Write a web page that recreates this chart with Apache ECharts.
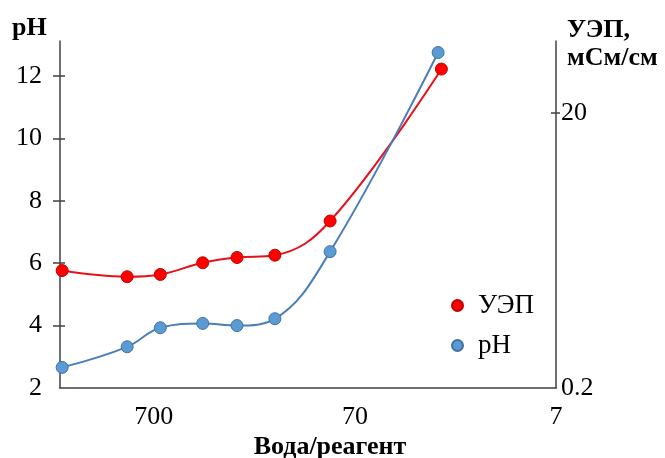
<!DOCTYPE html>
<html>
<head>
<meta charset="utf-8">
<script src="https://cdn.jsdelivr.net/npm/echarts@6/dist/echarts.min.js"></script>
<style>
  html, body { margin: 0; padding: 0; background: #fff; }
  #chart { width: 665px; height: 458px; }
</style>
</head>
<body>
<div id="chart"></div>
<script>
// water/reagent ratio for each sample
var ratioPH = [2000, 950, 650, 400, 270, 175, 93, 27];
var ratioUEP = [2000, 950, 650, 400, 270, 175, 93, 26];
// measured values
var phValues = [2.66, 3.32, 3.93, 4.07, 4.0, 4.22, 6.37, 12.75];
var uepValues = [1.43, 1.29, 1.34, 1.63, 1.78, 1.85, 3.28, 41.8];
// tick labels
var ratioTicks = [7, 70, 700];
var phLabels = [2, 4, 6, 8, 10, 12];
var phTicks = [4, 6, 8, 10, 12];
var uepLabels = [0.2, 20];
var uepTicks = [20];

var font = 'Liberation Serif';
var titleFont = 'bold 26px "Liberation Serif"';

function pairs(xs, ys) {
    var out = [];
    for (var i = 0; i < xs.length; i++) {
        out.push([xs[i], ys[i]]);
    }
    return out;
}

var myChart = echarts.init(document.getElementById('chart'));
var axisColor = '#404040';

option = {
    animation: false,
    grid: {
        left: 60,
        right: 109,
        top: 41,
        bottom: 70
    },
    legend: {
        orient: 'vertical',
        left: 446,
        top: 287,
        itemGap: 13,
        itemWidth: 11,
        itemHeight: 11,
        icon: 'circle',
        textStyle: { fontFamily: font, fontSize: 27, lineHeight: 27, color: '#000', padding: [0, 0, 0, 10] },
        data: ['УЭП', 'pH']
    },
    graphic: [
        { type: 'text', x: 12, y: 28, style: { text: 'pH', font: titleFont, fill: '#000', verticalAlign: 'middle' } },
        { type: 'text', x: 567, y: 30, style: { text: 'УЭП,', font: titleFont, fill: '#000', verticalAlign: 'middle' } },
        { type: 'text', x: 567, y: 58, style: { text: 'мСм/см', font: titleFont, fill: '#000', verticalAlign: 'middle' } },
        { type: 'text', x: 330, y: 447, style: { text: 'Вода/реагент', font: titleFont, fill: '#000', align: 'center', verticalAlign: 'middle' } }
    ],
    xAxis: {
        type: 'log',
        logBase: 10,
        inverse: true,
        min: 7,
        max: 2050,
        axisLine: { lineStyle: { color: axisColor, width: 1.5 } },
        axisTick: { show: false },
        splitLine: { show: false },
        axisLabel: {
            customValues: ratioTicks,
            margin: 16,
            fontFamily: font,
            fontSize: 26,
            color: '#000'
        }
    },
    yAxis: [
        {
            type: 'value',
            position: 'left',
            min: 2,
            max: 13.12,
            interval: 2,
            axisLine: { show: true, lineStyle: { color: axisColor, width: 1.5 } },
            axisTick: { show: true, length: 7, customValues: phTicks, lineStyle: { color: axisColor, width: 1.5 } },
            splitLine: { show: false },
            axisLabel: {
                customValues: phLabels,
                margin: 18,
                fontFamily: font,
                fontSize: 26,
                color: '#000'
            }
        },
        {
            type: 'log',
            logBase: 10,
            position: 'right',
            min: 0.2,
            max: 66.9,
            axisLine: { show: true, lineStyle: { color: axisColor, width: 1.5 } },
            axisTick: { show: true, length: 4, customValues: uepTicks, lineStyle: { color: axisColor, width: 1.5 } },
            splitLine: { show: false },
            minorTick: { show: false },
            axisLabel: {
                customValues: uepLabels,
                margin: 5,
                fontFamily: font,
                fontSize: 26,
                color: '#000'
            }
        },
        {
            // inner half of the crossing ticks on the pH axis
            type: 'value',
            position: 'left',
            min: 2,
            max: 13.12,
            interval: 2,
            axisLine: { show: false },
            axisTick: { show: true, inside: true, length: 5, customValues: phTicks, lineStyle: { color: axisColor, width: 1.5 } },
            axisLabel: { show: false },
            splitLine: { show: false }
        },
        {
            type: 'log',
            logBase: 10,
            position: 'right',
            min: 0.2,
            max: 66.9,
            axisLine: { show: false },
            axisTick: { show: true, inside: true, length: 5, customValues: uepTicks, lineStyle: { color: axisColor, width: 1.5 } },
            axisLabel: { show: false },
            splitLine: { show: false },
            minorTick: { show: false }
        }
    ],
    series: [
        {
            name: 'УЭП',
            type: 'line',
            yAxisIndex: 1,
            smooth: 0.4,
            symbol: 'circle',
            symbolSize: 12,
            data: pairs(ratioUEP, uepValues),
            lineStyle: { color: '#e8101a', width: 2 },
            itemStyle: { color: '#ff0000', borderColor: '#c00000', borderWidth: 1 }
        },
        {
            name: 'pH',
            type: 'line',
            yAxisIndex: 0,
            smooth: 0.4,
            symbol: 'circle',
            symbolSize: 12,
            data: pairs(ratioPH, phValues),
            lineStyle: { color: '#4a7ebb', width: 2 },
            itemStyle: { color: '#5b9bd5', borderColor: '#41719c', borderWidth: 1 }
        }
    ]
};
myChart.setOption(option);
</script>
</body>
</html>
